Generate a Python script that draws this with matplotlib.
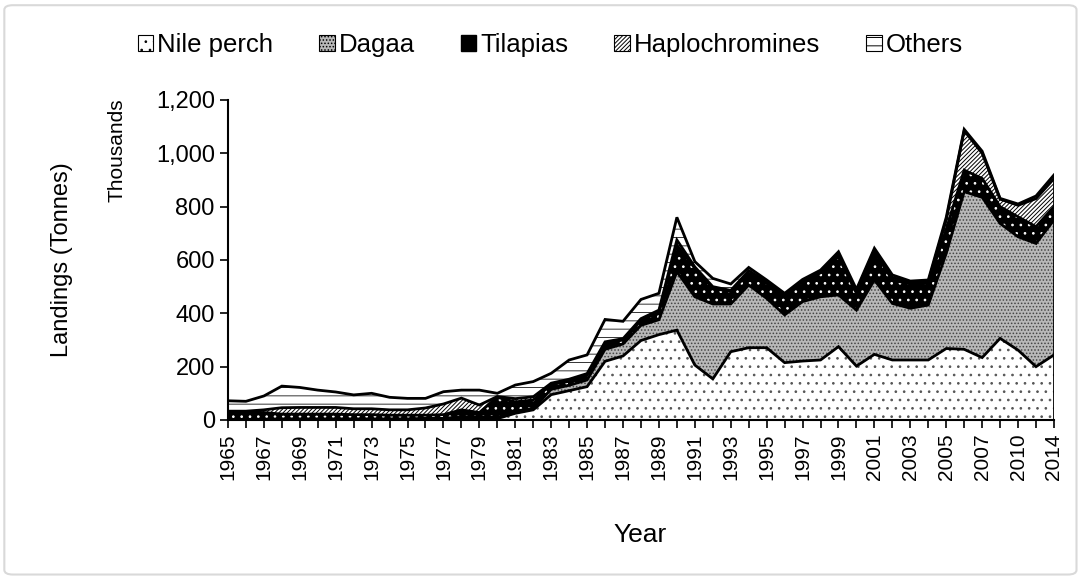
import numpy as np
import matplotlib.pyplot as plt
from matplotlib.patches import Patch, FancyBboxPatch
from matplotlib.ticker import FuncFormatter

plt.rcParams['font.family'] = ['Liberation Sans', 'DejaVu Sans']
plt.rcParams['hatch.linewidth'] = 0.7

# landings, thousand tonnes
years = [1965, 1966, 1967, 1968, 1969, 1970, 1971, 1972, 1973, 1974,
         1975, 1976, 1977, 1978, 1979, 1980, 1981, 1982, 1983, 1984,
         1985, 1986, 1987, 1988, 1989, 1990, 1991, 1992, 1993, 1994,
         1995, 1996, 1997, 1998, 1999, 2000, 2001, 2002, 2003, 2004,
         2005, 2006, 2007, 2008, 2010, 2011, 2014]
nile_perch = [1, 1, 1, 1, 1, 1, 1, 1, 1, 1,
              1, 2, 2, 3, 4, 5, 25, 38, 95, 110,
              125, 220, 240, 298, 320, 337, 206, 154, 256, 271,
              271, 215, 221, 225, 275, 202, 246, 225, 225, 225,
              268, 265, 234, 306, 262, 200, 244]
dagaa = [1, 1, 2, 3, 3, 3, 3, 3, 3, 3,
         3, 4, 4, 9, 8, 5, 8, 6, 20, 20,
         25, 45, 45, 57, 56, 219, 256, 281, 179, 235,
         185, 179, 223, 237, 194, 210, 279, 212, 194, 206,
         357, 591, 601, 431, 425, 462, 506]
tilapias = [29, 28, 25, 18, 18, 18, 18, 16, 16, 14,
            14, 12, 14, 26, 16, 75, 35, 31, 18, 15,
            18, 22, 15, 18, 27, 100, 107, 59, 46, 44,
            56, 68, 75, 90, 143, 63, 106, 88, 91, 81,
            90, 81, 71, 63, 75, 63, 50]
haplochromines = [2, 3, 10, 24, 25, 25, 25, 22, 22, 20,
                  20, 27, 40, 44, 28, 3, 12, 12, 5, 8,
                  6, 6, 5, 7, 9, 19, 5, 6, 5, 10,
                  6, 6, 3, 4, 10, 7, 7, 10, 5, 6,
                  35, 148, 94, 28, 43, 105, 105]
others = [39, 37, 52, 81, 75, 65, 58, 52, 58, 47,
          43, 36, 46, 30, 56, 12, 51, 57, 37, 72,
          70, 84, 65, 72, 63, 85, 20, 31, 24, 12,
          7, 7, 5, 6, 9, 8, 6, 9, 6, 7,
          10, 5, 8, 3, 5, 10, 14]

names = ['Nile perch', 'Dagaa', 'Tilapias', 'Haplochromines', 'Others']
series = [nile_perch, dagaa, tilapias, haplochromines, others]
faces = ['white', '#b8b8b8', 'black', 'white', 'white']
hatches = ['..', '.....', '..', '////////', '--']
hatch_cols = ['#555555', '#444444', 'white', 'black', '#333333']

x = np.arange(len(years))

fig = plt.figure(figsize=(10.83, 5.78), dpi=100)
ax = fig.add_axes([0.2105, 0.2734, 0.7627, 0.5536])

polys = ax.stackplot(x, *series, colors=faces, linewidth=0)
for p, h, hc in zip(polys, hatches, hatch_cols):
    p.set_hatch(h)
    p.set_edgecolor(hc)
    p.set_linewidth(0)

cum = np.cumsum(np.array(series), axis=0)
for c in cum:
    ax.plot(x, c, color='black', lw=2, solid_joinstyle='miter')
ax.plot([x[-1], x[-1]], [0, cum[-1][-1]], color='black', lw=2)

ax.set_xlim(0, len(years) - 1)
ax.set_ylim(0, 1200)
ax.set_yticks(range(0, 1201, 200))
ax.yaxis.set_major_formatter(FuncFormatter(lambda v, p: '{:,.0f}'.format(v)))
ax.set_xticks(x)
ax.set_xticklabels([str(y) if i % 2 == 0 else '' for i, y in enumerate(years)],
                   rotation=90)
ax.tick_params(axis='y', labelsize=17, direction='out', length=6, width=1.2)
ax.tick_params(axis='x', labelsize=15, direction='out', length=6, width=1.2)
for s in ['top', 'right']:
    ax.spines[s].set_visible(False)
for s in ['left', 'bottom']:
    ax.spines[s].set_linewidth(1.5)

fig.text(0.057, 0.55, 'Landings (Tonnes)', rotation=90, fontsize=17,
         ha='center', va='center')
fig.text(0.108, 0.74, 'Thousands', rotation=90, fontsize=15,
         ha='center', va='center')
fig.text(0.591, 0.074, 'Year', fontsize=19, ha='center', va='center')

handles = [Patch(facecolor=f, hatch=h, edgecolor='black', lw=0.8)
           for f, h in zip(faces, hatches)]
handles[2] = Patch(facecolor='black', edgecolor='black')
fig.legend(handles, names, loc='center', bbox_to_anchor=(0.508, 0.922),
           ncol=5, frameon=False, fontsize=18.5, handlelength=0.6,
           handleheight=0.6, handletextpad=0.15, columnspacing=1.8)

fig.patches.append(FancyBboxPatch((0.004, 0.006), 0.99, 0.985,
                                  boxstyle='round,pad=0,rounding_size=0.008',
                                  transform=fig.transFigure, fill=False,
                                  edgecolor='#d9d9d9', lw=1.5))

plt.savefig('out.png', dpi=100)
